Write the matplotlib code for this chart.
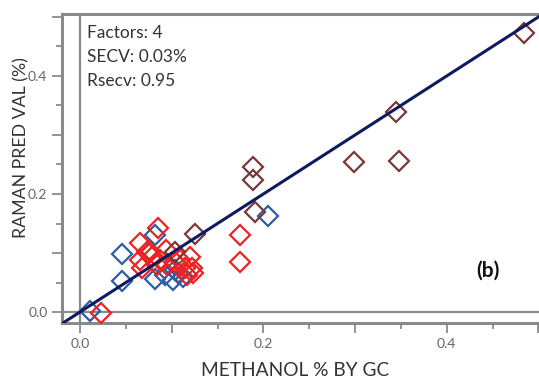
import matplotlib.pyplot as plt
import numpy as np
from matplotlib.ticker import MultipleLocator, FuncFormatter

# methanol % by GC (x) vs Raman predicted value (y)
brown_x = [0.484, 0.345, 0.299, 0.348, 0.189, 0.189, 0.191, 0.125, 0.104]
brown_y = [0.473, 0.339, 0.254, 0.256, 0.246, 0.224, 0.169, 0.132, 0.102]

blue_x = [0.205, 0.082, 0.046, 0.046, 0.011, 0.082, 0.093, 0.101, 0.104, 0.112, 0.107]
blue_y = [0.163, 0.130, 0.098, 0.053, 0.002, 0.056, 0.063, 0.054, 0.071, 0.059, 0.066]

red_x = [0.023, 0.085, 0.065, 0.065, 0.068, 0.076, 0.079, 0.087, 0.094, 0.095, 0.084,
         0.109, 0.120, 0.122, 0.123, 0.117, 0.104, 0.174, 0.174, 0.073, 0.114]
red_y = [-0.002, 0.142, 0.117, 0.088, 0.075, 0.102, 0.093, 0.088, 0.105, 0.080, 0.080,
         0.088, 0.093, 0.075, 0.066, 0.063, 0.085, 0.130, 0.085, 0.102, 0.075]

fit_x = [-0.02, 0.52]
fit_y = [-0.02, 0.52]

stats = ["Factors: 4", "SECV: 0.03%", "Rsecv: 0.95"]

plt.rcParams['font.family'] = ['Lato', 'DejaVu Sans']

W, H = 539, 379
fig = plt.figure(figsize=(W / 100, H / 100), dpi=100)
ax = fig.add_axes([62/W, 1 - 323/H, (W - 62)/W, (323 - 14)/H])

gray = '#8a8a8a'
ax.axvline(0, color=gray, lw=1.6, zorder=1)
ax.axhline(0, color=gray, lw=1.6, zorder=1)

mk = dict(marker='D', ms=10.5, mfc='none', mew=1.6, ls='none', zorder=3)
ax.plot(blue_x, blue_y, mec='#2b5ea6', **mk)
ax.plot(red_x, red_y, mec='#ee2222', **mk)
ax.plot(brown_x, brown_y, mec='#7a3838', **mk)
ax.plot(fit_x, fit_y, color='#0d1a5e', lw=2.2, zorder=4)

ax.set_xlim(-0.0196, 0.5006)
ax.set_ylim(-0.0186, 0.505)

for s in ['top', 'left', 'bottom']:
    ax.spines[s].set_color(gray)
    ax.spines[s].set_linewidth(2.2)
ax.spines['right'].set_visible(False)

fmt = FuncFormatter(lambda v, p: f"{v:.1f}" if round(v * 10) % 2 == 0 else "")
for axis in (ax.xaxis, ax.yaxis):
    axis.set_major_locator(MultipleLocator(0.1))
    axis.set_minor_locator(MultipleLocator(0.05))
    axis.set_major_formatter(fmt)
ax.tick_params(which='major', length=7.5, width=1.3, color=gray, labelsize=10,
               labelcolor='#666666', pad=3)
ax.tick_params(which='minor', length=4.5, width=1.3, color=gray)

ax.set_xlabel("METHANOL % BY GC", fontsize=13.8, color='#333333')
ax.set_ylabel("RAMAN PRED VAL (%)", fontsize=12.8, color='#333333')
ax.xaxis.set_label_coords((295 - 62) / 477, (323 - 370) / 309)
ax.xaxis.label.set_va('center')
ax.yaxis.set_label_coords((21 - 62) / 477, (323 - 148) / 309)
ax.yaxis.label.set_va('center')

# stats block, placed in pixels from the top-left corner
for i, t in enumerate(stats):
    fig.text(87 / W, 1 - (33 + 24 * i) / H, t, fontsize=12.5, color='#333333',
             va='center', ha='left')

fig.text(488 / W, 1 - 271 / H, "(b)", fontsize=15, fontweight='bold',
         color='#111111', ha='center', va='center')

fig.savefig("out.png", dpi=100)
